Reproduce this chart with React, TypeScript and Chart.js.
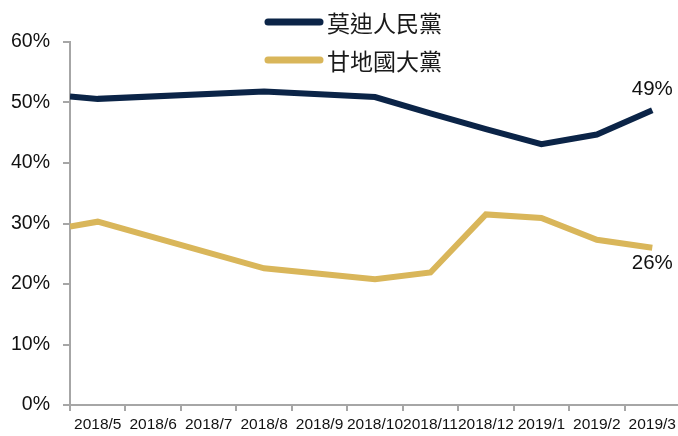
import React, { useEffect, useRef } from "react";
import { Chart, registerables } from "chart.js";

Chart.register(...registerables);

const categories = ["2018/5", "2018/6", "2018/7", "2018/8", "2018/9", "2018/10", "2018/11", "2018/12", "2019/1", "2019/2", "2019/3"];
const seriesNames = ["莫迪人民黨", "甘地國大黨"];
const modiX = [0, 0.5, 3.5, 5.5, 6.5, 7.5, 8.5, 9.5, 10.5];
const modiValues = [51.0, 50.6, 51.8, 50.9, 48.2, 45.6, 43.1, 44.7, 48.7];
const gandhiX = [0, 0.5, 3.5, 5.5, 6.5, 7.5, 8.5, 9.5, 10.5];
const gandhiValues = [29.5, 30.3, 22.6, 20.8, 21.9, 31.5, 30.9, 27.3, 26.0];
const endLabels = ["49%", "26%"];
const yTicks = [0, 10, 20, 30, 40, 50, 60];

const NAVY = "#0B2447";
const GOLD = "#D9B65A";
const AXIS = "#A6A6A6";
const SANS = "'Liberation Sans', Arial, sans-serif";
const CJK = "'Noto Sans CJK TC', 'Noto Sans CJK SC', sans-serif";

export default function App() {
  const ref = useRef<HTMLCanvasElement | null>(null);

  useEffect(() => {
    const canvas = ref.current;
    if (!canvas) return;

    const overlay = {
      id: "overlay",
      afterDraw(chart: any) {
        const ctx = chart.ctx;
        ctx.save();
        const colors = [NAVY, GOLD];
        const rows = [22, 60];
        seriesNames.forEach((name, i) => {
          ctx.strokeStyle = colors[i];
          ctx.lineWidth = 7;
          ctx.lineCap = "round";
          ctx.beginPath();
          ctx.moveTo(268, rows[i]);
          ctx.lineTo(320, rows[i]);
          ctx.stroke();
          ctx.fillStyle = "#1a1a1a";
          ctx.font = `23px ${CJK}`;
          ctx.textAlign = "left";
          ctx.textBaseline = "middle";
          ctx.fillText(name, 327, rows[i] + 1);
        });
        const offsets = [-21, 16];
        chart.data.datasets.forEach((ds: any, i: number) => {
          const meta = chart.getDatasetMeta(i);
          const pt = meta.data[meta.data.length - 1];
          ctx.fillStyle = "#111";
          ctx.font = `20.5px ${SANS}`;
          ctx.textAlign = "center";
          ctx.textBaseline = "middle";
          ctx.fillText(endLabels[i], pt.x, pt.y + offsets[i]);
        });
        ctx.restore();
      },
    };

    const chart = new Chart(canvas, {
      type: "line",
      data: {
        datasets: [
          {
            label: seriesNames[0],
            data: modiX.map((x, i) => ({ x, y: modiValues[i] })),
            borderColor: NAVY,
            backgroundColor: NAVY,
            borderWidth: 6,
            pointRadius: 0,
            tension: 0,
          },
          {
            label: seriesNames[1],
            data: gandhiX.map((x, i) => ({ x, y: gandhiValues[i] })),
            borderColor: GOLD,
            backgroundColor: GOLD,
            borderWidth: 6,
            pointRadius: 0,
            tension: 0,
          },
        ],
      },
      options: {
        responsive: false,
        animation: false,
        layout: { padding: { top: 42, right: 0, bottom: 0, left: 0 } },
        plugins: { legend: { display: false }, tooltip: { enabled: false } },
        scales: {
          x: {
            type: "linear",
            min: 0,
            max: categories.length,
            afterBuildTicks: (axis: any) => {
              const t: any[] = [];
              for (let i = 0; i <= categories.length * 2; i++) t.push({ value: i / 2 });
              axis.ticks = t;
            },
            afterFit: (axis: any) => {
              axis.height = 31;
            },
            grid: {
              drawOnChartArea: false,
              drawTicks: true,
              tickLength: 6,
              lineWidth: 2,
              color: (c: any) => (c.tick && Number.isInteger(c.tick.value) ? AXIS : "rgba(0,0,0,0)"),
            },
            border: { display: true, color: AXIS, width: 2 },
            ticks: {
              autoSkip: false,
              maxRotation: 0,
              minRotation: 0,
              padding: 4,
              color: "#111",
              font: { family: SANS, size: 15.5 },
              callback: (v: any) => {
                const n = Number(v);
                return Number.isInteger(n) ? "" : categories[Math.floor(n)];
              },
            },
          },
          y: {
            min: 0,
            max: 60,
            afterBuildTicks: (axis: any) => {
              axis.ticks = yTicks.map((v) => ({ value: v }));
            },
            afterFit: (axis: any) => {
              axis.width = 70;
            },
            grid: {
              drawOnChartArea: false,
              drawTicks: true,
              tickLength: 7,
              lineWidth: 2,
              color: AXIS,
            },
            border: { display: true, color: AXIS, width: 2 },
            ticks: {
              padding: 13,
              color: "#111",
              font: { family: SANS, size: 19.5 },
              callback: (v: any) => `${v}%`,
            },
          },
        },
      },
      plugins: [overlay],
    } as any);

    return () => chart.destroy();
  }, []);

  return (
    <div style={{ position: "fixed", left: 0, top: 0, width: 678, height: 436, overflow: "hidden", background: "#fff" }}>
      <canvas ref={ref} width={684} height={436} style={{ display: "block" }} />
    </div>
  );
}
